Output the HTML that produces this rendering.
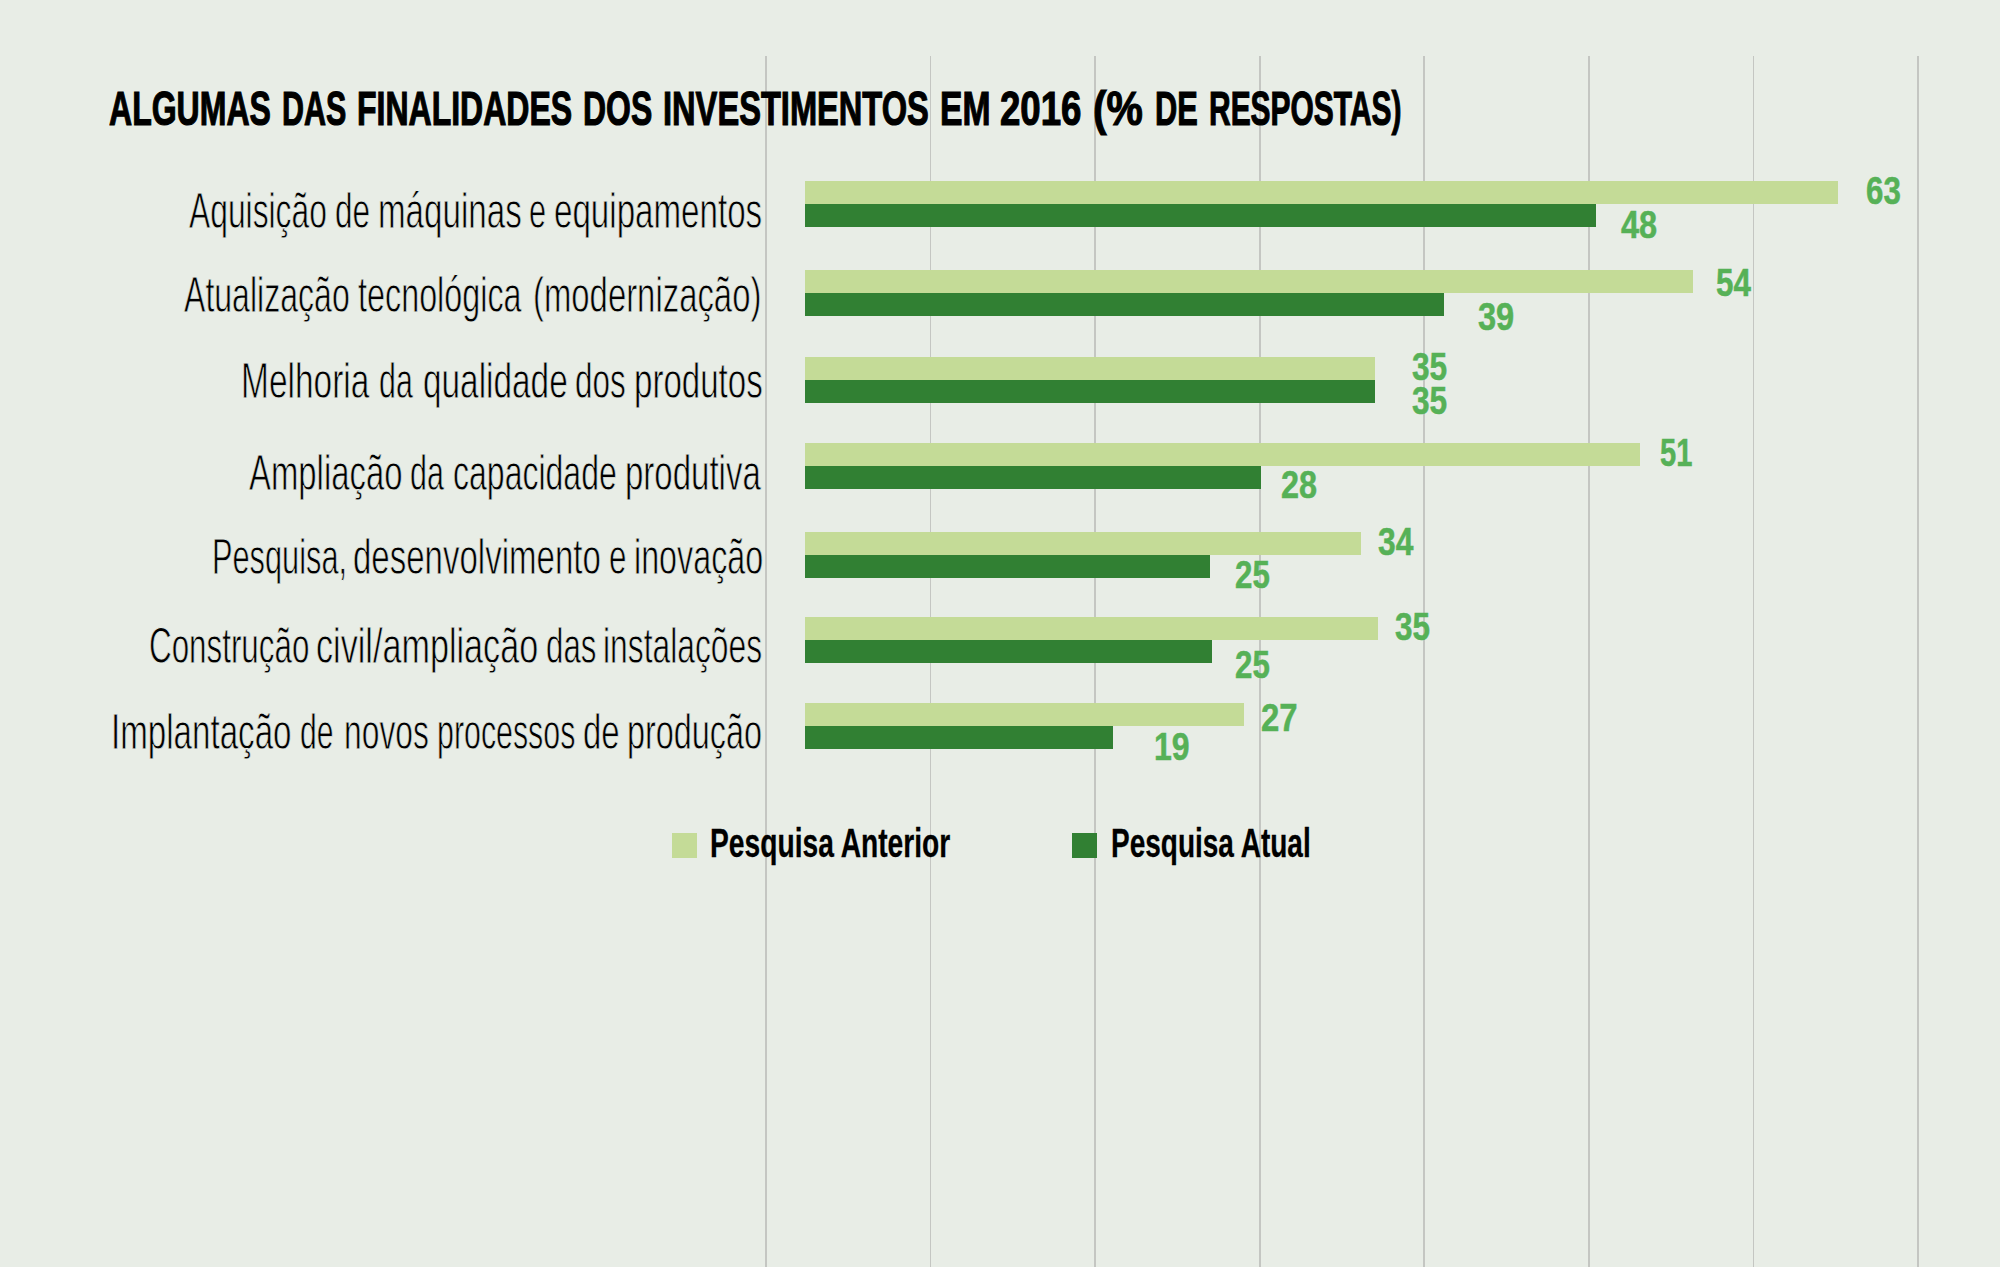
<!DOCTYPE html>
<html><head><meta charset="utf-8"><style>
html,body{margin:0;padding:0;}
body{width:2000px;height:1267px;position:relative;overflow:hidden;background:#e8ede6;font-family:"Liberation Sans",sans-serif;}
.g{position:absolute;top:56px;bottom:0;width:1.7px;background:#c4c6c2;}
.t{position:absolute;height:0;line-height:0;white-space:nowrap;transform-origin:0 0;}
.b{position:absolute;}
</style></head><body>
<div class="g" style="left:765.15px"></div>
<div class="g" style="left:929.72px"></div>
<div class="g" style="left:1094.29px"></div>
<div class="g" style="left:1258.86px"></div>
<div class="g" style="left:1423.44px"></div>
<div class="g" style="left:1588.01px"></div>
<div class="g" style="left:1752.58px"></div>
<div class="g" style="left:1917.15px"></div>
<div class="b" style="left:805px;top:181px;width:1033px;height:23px;background:#c4db97"></div>
<div class="b" style="left:805px;top:204px;width:791px;height:23px;background:#318033"></div>
<div class="b" style="left:805px;top:270px;width:888px;height:23px;background:#c4db97"></div>
<div class="b" style="left:805px;top:293px;width:639px;height:23px;background:#318033"></div>
<div class="b" style="left:805px;top:357px;width:570px;height:23px;background:#c4db97"></div>
<div class="b" style="left:805px;top:380px;width:570px;height:23px;background:#318033"></div>
<div class="b" style="left:805px;top:443px;width:835px;height:23px;background:#c4db97"></div>
<div class="b" style="left:805px;top:466px;width:456px;height:23px;background:#318033"></div>
<div class="b" style="left:805px;top:532px;width:556px;height:23px;background:#c4db97"></div>
<div class="b" style="left:805px;top:555px;width:405px;height:23px;background:#318033"></div>
<div class="b" style="left:805px;top:617px;width:573px;height:23px;background:#c4db97"></div>
<div class="b" style="left:805px;top:640px;width:407px;height:23px;background:#318033"></div>
<div class="b" style="left:805px;top:703px;width:439px;height:23px;background:#c4db97"></div>
<div class="b" style="left:805px;top:726px;width:308px;height:23px;background:#318033"></div>
<div class="b" style="left:672px;top:833px;width:25px;height:25px;background:#c4db97"></div>
<div class="b" style="left:1072px;top:833px;width:25px;height:25px;background:#318033"></div>
<div class="t" style="left:109.34px;top:108.29px;font-size:48.5px;font-weight:bold;color:#000;transform:scaleX(0.6605);-webkit-text-stroke:1.2px #000;">ALGUMAS</div>
<div class="t" style="left:282.12px;top:108.29px;font-size:48.5px;font-weight:bold;color:#000;transform:scaleX(0.6276);-webkit-text-stroke:1.2px #000;">DAS</div>
<div class="t" style="left:357.02px;top:108.29px;font-size:48.5px;font-weight:bold;color:#000;transform:scaleX(0.6599);-webkit-text-stroke:1.2px #000;">FINALIDADES</div>
<div class="t" style="left:583.02px;top:108.29px;font-size:48.5px;font-weight:bold;color:#000;transform:scaleX(0.6584);-webkit-text-stroke:1.2px #000;">DOS</div>
<div class="t" style="left:663.48px;top:108.29px;font-size:48.5px;font-weight:bold;color:#000;transform:scaleX(0.6726);-webkit-text-stroke:1.2px #000;">INVESTIMENTOS</div>
<div class="t" style="left:939.92px;top:108.29px;font-size:48.5px;font-weight:bold;color:#000;transform:scaleX(0.6940);-webkit-text-stroke:1.2px #000;">EM</div>
<div class="t" style="left:1000.25px;top:108.29px;font-size:48.5px;font-weight:bold;color:#000;transform:scaleX(0.7547);-webkit-text-stroke:1.2px #000;">2016</div>
<div class="t" style="left:1092.82px;top:108.29px;font-size:48.5px;font-weight:bold;color:#000;transform:scaleX(0.8421);-webkit-text-stroke:1.2px #000;">(%</div>
<div class="t" style="left:1154.60px;top:108.29px;font-size:48.5px;font-weight:bold;color:#000;transform:scaleX(0.6349);-webkit-text-stroke:1.2px #000;">DE</div>
<div class="t" style="left:1208.65px;top:108.29px;font-size:48.5px;font-weight:bold;color:#000;transform:scaleX(0.6176);-webkit-text-stroke:1.2px #000;">RESPOSTAS)</div>
<div class="t" style="left:1865.69px;top:191.25px;font-size:38.5px;font-weight:bold;color:#56b157;transform:scaleX(0.8122);-webkit-text-stroke:0.5px #56b157;">63</div>
<div class="t" style="left:1620.86px;top:224.65px;font-size:38.5px;font-weight:bold;color:#56b157;transform:scaleX(0.8439);-webkit-text-stroke:0.5px #56b157;">48</div>
<div class="t" style="left:1716.49px;top:282.65px;font-size:38.5px;font-weight:bold;color:#56b157;transform:scaleX(0.8143);-webkit-text-stroke:0.5px #56b157;">54</div>
<div class="t" style="left:1477.85px;top:316.85px;font-size:38.5px;font-weight:bold;color:#56b157;transform:scaleX(0.8463);-webkit-text-stroke:0.5px #56b157;">39</div>
<div class="t" style="left:1412.08px;top:366.75px;font-size:38.5px;font-weight:bold;color:#56b157;transform:scaleX(0.8220);-webkit-text-stroke:0.5px #56b157;">35</div>
<div class="t" style="left:1412.08px;top:400.95px;font-size:38.5px;font-weight:bold;color:#56b157;transform:scaleX(0.8220);-webkit-text-stroke:0.5px #56b157;">35</div>
<div class="t" style="left:1660.14px;top:453.45px;font-size:38.5px;font-weight:bold;color:#56b157;transform:scaleX(0.7561);-webkit-text-stroke:0.5px #56b157;">51</div>
<div class="t" style="left:1281.26px;top:485.15px;font-size:38.5px;font-weight:bold;color:#56b157;transform:scaleX(0.8415);-webkit-text-stroke:0.5px #56b157;">28</div>
<div class="t" style="left:1378.07px;top:542.25px;font-size:38.5px;font-weight:bold;color:#56b157;transform:scaleX(0.8262);-webkit-text-stroke:0.5px #56b157;">34</div>
<div class="t" style="left:1234.99px;top:575.05px;font-size:38.5px;font-weight:bold;color:#56b157;transform:scaleX(0.8122);-webkit-text-stroke:0.5px #56b157;">25</div>
<div class="t" style="left:1394.58px;top:627.15px;font-size:38.5px;font-weight:bold;color:#56b157;transform:scaleX(0.8171);-webkit-text-stroke:0.5px #56b157;">35</div>
<div class="t" style="left:1234.99px;top:664.55px;font-size:38.5px;font-weight:bold;color:#56b157;transform:scaleX(0.8122);-webkit-text-stroke:0.5px #56b157;">25</div>
<div class="t" style="left:1260.94px;top:717.65px;font-size:38.5px;font-weight:bold;color:#56b157;transform:scaleX(0.8550);-webkit-text-stroke:0.5px #56b157;">27</div>
<div class="t" style="left:1153.93px;top:746.85px;font-size:38.5px;font-weight:bold;color:#56b157;transform:scaleX(0.8325);-webkit-text-stroke:0.5px #56b157;">19</div>
<div class="t" style="left:710.14px;top:843.49px;font-size:41px;font-weight:bold;color:#000;transform:scaleX(0.6879);-webkit-text-stroke:0.3px #000;">Pesquisa Anterior</div>
<div class="t" style="left:1110.60px;top:843.49px;font-size:41px;font-weight:bold;color:#000;transform:scaleX(0.6828);-webkit-text-stroke:0.3px #000;">Pesquisa Atual</div>
<div class="t" style="left:188.66px;top:211.06px;font-size:50px;font-weight:normal;color:#000;transform:scaleX(0.6359);-webkit-text-stroke:0.8px #e8ede6;">Aquisição</div>
<div class="t" style="left:334.86px;top:211.06px;font-size:50px;font-weight:normal;color:#000;transform:scaleX(0.6300);-webkit-text-stroke:0.8px #e8ede6;">de</div>
<div class="t" style="left:378.35px;top:211.06px;font-size:50px;font-weight:normal;color:#000;transform:scaleX(0.6631);-webkit-text-stroke:0.8px #e8ede6;">máquinas</div>
<div class="t" style="left:528.91px;top:211.06px;font-size:50px;font-weight:normal;color:#000;transform:scaleX(0.6136);-webkit-text-stroke:0.8px #e8ede6;">e</div>
<div class="t" style="left:554.26px;top:211.06px;font-size:50px;font-weight:normal;color:#000;transform:scaleX(0.6626);-webkit-text-stroke:0.8px #e8ede6;">equipamentos</div>
<div class="t" style="left:184.11px;top:294.77px;font-size:50px;font-weight:normal;color:#000;transform:scaleX(0.6412);-webkit-text-stroke:0.8px #e8ede6;">Atualização</div>
<div class="t" style="left:358.10px;top:294.77px;font-size:50px;font-weight:normal;color:#000;transform:scaleX(0.6468);-webkit-text-stroke:0.8px #e8ede6;">tecnológica</div>
<div class="t" style="left:533.37px;top:294.77px;font-size:50px;font-weight:normal;color:#000;transform:scaleX(0.6574);-webkit-text-stroke:0.8px #e8ede6;">(modernização)</div>
<div class="t" style="left:240.85px;top:381.06px;font-size:50px;font-weight:normal;color:#000;transform:scaleX(0.6694);-webkit-text-stroke:0.8px #e8ede6;">Melhoria</div>
<div class="t" style="left:378.68px;top:381.06px;font-size:50px;font-weight:normal;color:#000;transform:scaleX(0.6077);-webkit-text-stroke:0.8px #e8ede6;">da</div>
<div class="t" style="left:422.70px;top:381.06px;font-size:50px;font-weight:normal;color:#000;transform:scaleX(0.6673);-webkit-text-stroke:0.8px #e8ede6;">qualidade</div>
<div class="t" style="left:575.11px;top:381.06px;font-size:50px;font-weight:normal;color:#000;transform:scaleX(0.6293);-webkit-text-stroke:0.8px #e8ede6;">dos</div>
<div class="t" style="left:633.75px;top:381.06px;font-size:50px;font-weight:normal;color:#000;transform:scaleX(0.6617);-webkit-text-stroke:0.8px #e8ede6;">produtos</div>
<div class="t" style="left:248.54px;top:472.56px;font-size:50px;font-weight:normal;color:#000;transform:scaleX(0.6574);-webkit-text-stroke:0.8px #e8ede6;">Ampliação</div>
<div class="t" style="left:409.67px;top:472.56px;font-size:50px;font-weight:normal;color:#000;transform:scaleX(0.6096);-webkit-text-stroke:0.8px #e8ede6;">da</div>
<div class="t" style="left:453.38px;top:472.56px;font-size:50px;font-weight:normal;color:#000;transform:scaleX(0.6404);-webkit-text-stroke:0.8px #e8ede6;">capacidade</div>
<div class="t" style="left:624.96px;top:472.56px;font-size:50px;font-weight:normal;color:#000;transform:scaleX(0.6602);-webkit-text-stroke:0.8px #e8ede6;">produtiva</div>
<div class="t" style="left:211.62px;top:557.16px;font-size:50px;font-weight:normal;color:#000;transform:scaleX(0.6152);-webkit-text-stroke:0.8px #e8ede6;">Pesquisa,</div>
<div class="t" style="left:353.32px;top:557.16px;font-size:50px;font-weight:normal;color:#000;transform:scaleX(0.6605);-webkit-text-stroke:0.8px #e8ede6;">desenvolvimento</div>
<div class="t" style="left:609.22px;top:557.16px;font-size:50px;font-weight:normal;color:#000;transform:scaleX(0.6273);-webkit-text-stroke:0.8px #e8ede6;">e</div>
<div class="t" style="left:634.22px;top:557.16px;font-size:50px;font-weight:normal;color:#000;transform:scaleX(0.6456);-webkit-text-stroke:0.8px #e8ede6;">inovação</div>
<div class="t" style="left:149.02px;top:645.66px;font-size:50px;font-weight:normal;color:#000;transform:scaleX(0.6272);-webkit-text-stroke:0.8px #e8ede6;">Construção</div>
<div class="t" style="left:316.35px;top:645.66px;font-size:50px;font-weight:normal;color:#000;transform:scaleX(0.6834);-webkit-text-stroke:0.8px #e8ede6;">civil/ampliação</div>
<div class="t" style="left:546.02px;top:645.66px;font-size:50px;font-weight:normal;color:#000;transform:scaleX(0.6253);-webkit-text-stroke:0.8px #e8ede6;">das</div>
<div class="t" style="left:603.46px;top:645.66px;font-size:50px;font-weight:normal;color:#000;transform:scaleX(0.6361);-webkit-text-stroke:0.8px #e8ede6;">instalações</div>
<div class="t" style="left:111.09px;top:732.46px;font-size:50px;font-weight:normal;color:#000;transform:scaleX(0.6626);-webkit-text-stroke:0.8px #e8ede6;">Implantação</div>
<div class="t" style="left:300.09px;top:732.46px;font-size:50px;font-weight:normal;color:#000;transform:scaleX(0.6020);-webkit-text-stroke:0.8px #e8ede6;">de</div>
<div class="t" style="left:343.86px;top:732.46px;font-size:50px;font-weight:normal;color:#000;transform:scaleX(0.6362);-webkit-text-stroke:0.8px #e8ede6;">novos</div>
<div class="t" style="left:436.97px;top:732.46px;font-size:50px;font-weight:normal;color:#000;transform:scaleX(0.6072);-webkit-text-stroke:0.8px #e8ede6;">processos</div>
<div class="t" style="left:583.03px;top:732.46px;font-size:50px;font-weight:normal;color:#000;transform:scaleX(0.6580);-webkit-text-stroke:0.8px #e8ede6;">de</div>
<div class="t" style="left:627.21px;top:732.46px;font-size:50px;font-weight:normal;color:#000;transform:scaleX(0.6480);-webkit-text-stroke:0.8px #e8ede6;">produção</div>
</body></html>
